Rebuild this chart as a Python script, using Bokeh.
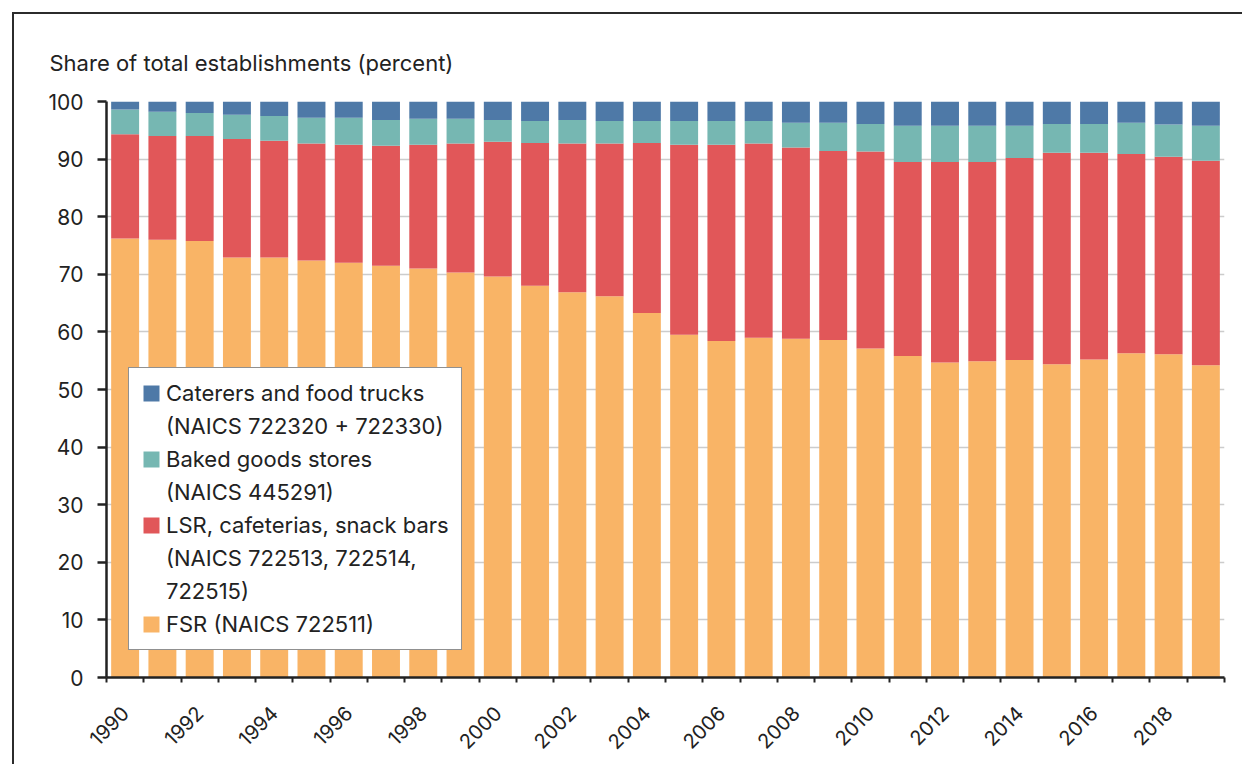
from bokeh.plotting import figure
from bokeh.models import Range1d, FixedTicker, Legend, LegendItem
from bokeh.embed import file_html
from bokeh.resources import INLINE

years = list(range(1990, 2020))
year_labels = [str(y) for y in range(1990, 2020, 2)]

fsr = [76.2, 76.0, 75.8, 72.9, 72.9, 72.4, 72.0, 71.5, 71.0, 70.3,
       69.6, 68.0, 66.9, 66.2, 63.3, 59.5, 58.4, 59.0, 58.8, 58.6,
       57.1, 55.8, 54.7, 54.9, 55.1, 54.4, 55.2, 56.3, 56.1, 54.2]
lsr = [18.1, 18.0, 18.2, 20.6, 20.3, 20.3, 20.5, 20.8, 21.5, 22.4,
       23.4, 24.8, 25.8, 26.5, 29.5, 33.0, 34.1, 33.7, 33.2, 32.8,
       34.2, 33.7, 34.8, 34.6, 35.1, 36.7, 35.9, 34.6, 34.3, 35.5]
baked = [4.3, 4.2, 4.0, 4.2, 4.3, 4.5, 4.7, 4.5, 4.5, 4.3,
         3.8, 3.8, 4.1, 3.9, 3.8, 4.1, 4.1, 3.9, 4.3, 4.9,
         4.8, 6.3, 6.3, 6.3, 5.6, 5.0, 5.0, 5.4, 5.6, 6.1]
caterers = [1.4, 1.8, 2.0, 2.3, 2.5, 2.8, 2.8, 3.2, 3.0, 3.0,
            3.2, 3.4, 3.2, 3.4, 3.4, 3.4, 3.4, 3.4, 3.7, 3.7,
            3.9, 4.2, 4.2, 4.2, 4.2, 3.9, 3.9, 3.7, 4.0, 4.2]

series_names = ["fsr", "lsr", "baked", "caterers"]
# legend text lines per series (first line carries the swatch)
series_label_lines = [
    ["FSR (NAICS 722511)"],
    ["LSR, cafeterias, snack bars", "(NAICS 722513, 722514,", "722515)"],
    ["Baked goods stores", "(NAICS 445291)"],
    ["Caterers and food trucks", "(NAICS 722320 + 722330)"],
]
colors = ["#F9B466", "#E15759", "#76B7B2", "#4E79A7"]

FONT = "Inter"
TXT = "#222222"

data = dict(year=years, fsr=fsr, lsr=lsr, baked=baked, caterers=caterers)

p = figure(width=1230, height=752, output_backend="svg", toolbar_location=None,
           x_range=Range1d(1989.5, 2019.5), y_range=Range1d(0, 100),
           min_border_left=92, min_border_right=20, min_border_top=87,
           min_border_bottom=89, title="Share of total establishments (percent)")
# surrounding box: only its left and top edges fall inside the window
p.styles = {"margin-left": "12px", "margin-top": "12px",
            "border-left": "2px solid #2b2b2b", "border-top": "2px solid #2b2b2b"}

renderers = p.vbar_stack(series_names, x="year", width=0.75, color=colors,
                         line_color=None, source=data)

p.title.align = "left"
p.title.offset = -57
p.title.text_font = FONT
p.title.text_font_size = "22px"
p.title.text_font_style = "normal"
p.title.text_color = TXT
p.title.standoff = 52

p.outline_line_color = None
p.background_fill_color = "white"
p.border_fill_color = "white"

p.xgrid.grid_line_color = None
p.ygrid.grid_line_color = "#cccccc"
p.ygrid.grid_line_width = 1.5
p.ygrid.ticker = FixedTicker(ticks=list(range(0, 101, 10)))

p.yaxis.ticker = FixedTicker(ticks=list(range(0, 101, 10)))
p.yaxis.axis_line_color = "#222222"
p.yaxis.axis_line_width = 2.5
p.yaxis.major_tick_line_color = "#222222"
p.yaxis.major_tick_line_width = 2.5
p.yaxis.major_tick_out = 9
p.yaxis.major_tick_in = 0
p.yaxis.minor_tick_line_color = None
p.yaxis.major_label_text_font = FONT
p.yaxis.major_label_text_font_size = "21px"
p.yaxis.major_label_text_color = TXT
p.yaxis.major_label_standoff = 14

p.xaxis.ticker = FixedTicker(ticks=[int(s) for s in year_labels],
                             minor_ticks=[y - 0.5 for y in years] + [years[-1] + 0.5])
p.xaxis.axis_line_color = "#222222"
p.xaxis.axis_line_width = 2.5
p.xaxis.major_tick_line_color = None
p.xaxis.minor_tick_line_color = "#222222"
p.xaxis.minor_tick_line_width = 2
p.xaxis.minor_tick_out = 5
p.xaxis.minor_tick_in = 0
p.xaxis.major_label_orientation = 0.785398
p.xaxis.major_label_text_font = FONT
p.xaxis.major_label_text_font_size = "20px"
p.xaxis.major_label_text_color = TXT
p.xaxis.major_label_standoff = 26

items = []
for i in [3, 2, 1, 0]:
    lines = series_label_lines[i]
    items.append(LegendItem(label=lines[0], renderers=[renderers[i]]))
    for extra in lines[1:]:
        items.append(LegendItem(label=extra, renderers=[]))
legend = Legend(items=items, location=(22, 27))
legend.label_text_font = FONT
legend.label_text_font_size = "22px"
legend.label_text_color = TXT
legend.label_height = 24
legend.glyph_width = 20
legend.glyph_height = 20
legend.label_standoff = 5
legend.padding = 12
legend.spacing = 7
legend.margin = 0
legend.border_line_color = "#222222"
legend.border_line_width = 1.2
legend.background_fill_color = "white"
legend.background_fill_alpha = 1.0
p.add_layout(legend)

open("out.html", "w").write(file_html(p, INLINE))
